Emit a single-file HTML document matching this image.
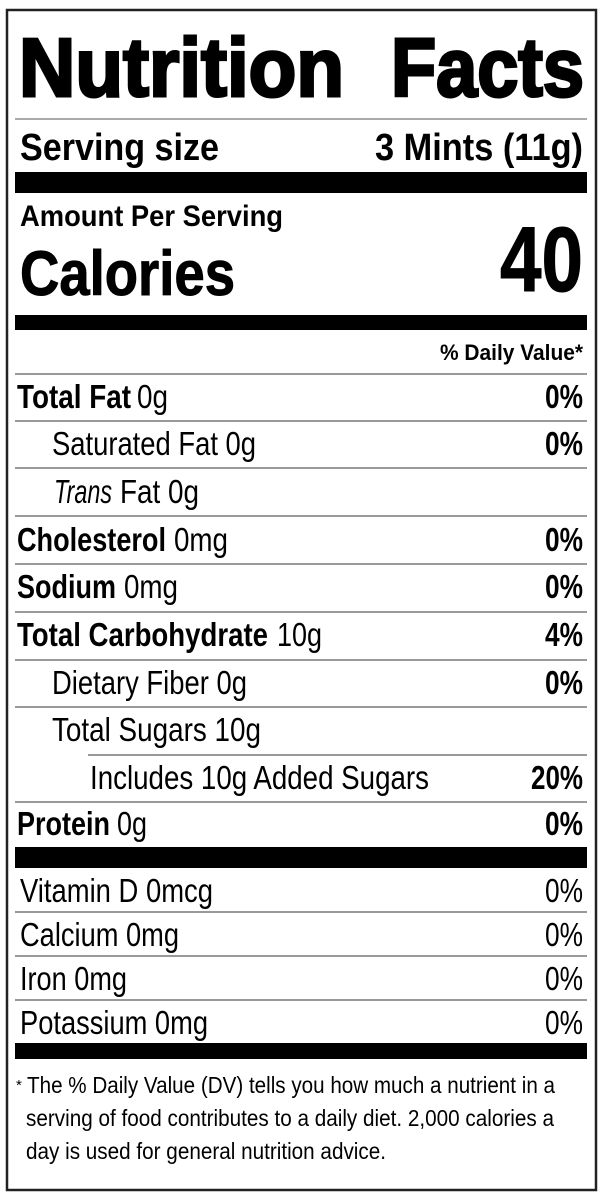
<!DOCTYPE html>
<html><head><meta charset="utf-8"><style>
html,body{margin:0;padding:0;background:#fff}
svg{display:block}
text{font-family:"Liberation Sans",Arial,sans-serif;fill:#000}
.b{font-weight:bold}
</style></head><body>
<svg width="600" height="1200" viewBox="0 0 600 1200" xmlns="http://www.w3.org/2000/svg">
<rect x="7" y="10" width="589" height="1180" fill="#fff" stroke="#222" stroke-width="2.5"/>
<text class="b" x="19" y="96" font-size="83" stroke="#000" stroke-width="3" textLength="325" lengthAdjust="spacingAndGlyphs">Nutrition</text>
<text class="b" x="391" y="96" font-size="83" stroke="#000" stroke-width="3" textLength="193" lengthAdjust="spacingAndGlyphs">Facts</text>
<rect x="15" y="118" width="572" height="2" fill="#aaa"/>
<text class="b" x="20" y="160" font-size="38" textLength="199" lengthAdjust="spacingAndGlyphs">Serving size</text>
<text class="b" x="375" y="160" font-size="38" textLength="208" lengthAdjust="spacingAndGlyphs">3 Mints (11g)</text>
<rect x="15" y="172" width="572" height="21" fill="#000"/>
<text class="b" x="20" y="226" font-size="30" textLength="263" lengthAdjust="spacingAndGlyphs">Amount Per Serving</text>
<text class="b" x="20" y="295" font-size="63" stroke="#000" stroke-width="1" textLength="215" lengthAdjust="spacingAndGlyphs">Calories</text>
<text class="b" x="500" y="291" font-size="92" stroke="#000" stroke-width="1" textLength="83" lengthAdjust="spacingAndGlyphs">40</text>
<rect x="15" y="315" width="572" height="15" fill="#000"/>
<text class="b" x="440" y="360" font-size="22" textLength="143" lengthAdjust="spacingAndGlyphs">% Daily Value*</text>
<g fill="#999">
<rect x="15" y="373" width="572" height="2"/>
<rect x="15" y="420" width="572" height="2"/>
<rect x="15" y="467" width="572" height="2"/>
<rect x="15" y="515" width="572" height="2"/>
<rect x="15" y="563" width="572" height="2"/>
<rect x="15" y="611" width="572" height="2"/>
<rect x="15" y="659" width="572" height="2"/>
<rect x="15" y="706" width="572" height="2"/>
<rect x="88" y="754" width="499" height="2"/>
<rect x="15" y="801" width="572" height="2"/>
</g>
<g font-size="33">
<text class="b" x="17" y="408" textLength="114" lengthAdjust="spacingAndGlyphs">Total Fat</text>
<text x="137" y="408" textLength="31" lengthAdjust="spacingAndGlyphs">0g</text>
<text class="b" x="545" y="408" textLength="38" lengthAdjust="spacingAndGlyphs">0%</text>

<text x="52" y="455" textLength="204" lengthAdjust="spacingAndGlyphs">Saturated Fat 0g</text>
<text class="b" x="545" y="455" textLength="38" lengthAdjust="spacingAndGlyphs">0%</text>

<text x="54" y="503" font-style="italic" textLength="58" lengthAdjust="spacingAndGlyphs">Trans</text>
<text x="120" y="503" textLength="79" lengthAdjust="spacingAndGlyphs">Fat 0g</text>

<text class="b" x="17" y="551" textLength="149" lengthAdjust="spacingAndGlyphs">Cholesterol</text>
<text x="174" y="551" textLength="54" lengthAdjust="spacingAndGlyphs">0mg</text>
<text class="b" x="545" y="551" textLength="38" lengthAdjust="spacingAndGlyphs">0%</text>

<text class="b" x="17" y="598" textLength="99" lengthAdjust="spacingAndGlyphs">Sodium</text>
<text x="124" y="598" textLength="54" lengthAdjust="spacingAndGlyphs">0mg</text>
<text class="b" x="545" y="598" textLength="38" lengthAdjust="spacingAndGlyphs">0%</text>

<text class="b" x="17" y="646" textLength="251" lengthAdjust="spacingAndGlyphs">Total Carbohydrate</text>
<text x="277" y="646" textLength="45" lengthAdjust="spacingAndGlyphs">10g</text>
<text class="b" x="545" y="646" textLength="38" lengthAdjust="spacingAndGlyphs">4%</text>

<text x="52" y="694" textLength="195" lengthAdjust="spacingAndGlyphs">Dietary Fiber 0g</text>
<text class="b" x="545" y="694" textLength="38" lengthAdjust="spacingAndGlyphs">0%</text>

<text x="52" y="741" textLength="209" lengthAdjust="spacingAndGlyphs">Total Sugars 10g</text>

<text x="90" y="789" textLength="339" lengthAdjust="spacingAndGlyphs">Includes 10g Added Sugars</text>
<text class="b" x="531" y="789" textLength="52" lengthAdjust="spacingAndGlyphs">20%</text>

<text class="b" x="17" y="835" textLength="93" lengthAdjust="spacingAndGlyphs">Protein</text>
<text x="117" y="835" textLength="30" lengthAdjust="spacingAndGlyphs">0g</text>
<text class="b" x="545" y="835" textLength="38" lengthAdjust="spacingAndGlyphs">0%</text>
</g>
<rect x="15" y="847" width="572" height="21" fill="#000"/>
<g fill="#999">
<rect x="15" y="911" width="572" height="2"/>
<rect x="15" y="955" width="572" height="2"/>
<rect x="15" y="999" width="572" height="2"/>
</g>
<g font-size="33">
<text x="20" y="902" textLength="193" lengthAdjust="spacingAndGlyphs">Vitamin D 0mcg</text>
<text x="545" y="902" textLength="38" lengthAdjust="spacingAndGlyphs">0%</text>
<text x="20" y="946" textLength="159" lengthAdjust="spacingAndGlyphs">Calcium 0mg</text>
<text x="545" y="946" textLength="38" lengthAdjust="spacingAndGlyphs">0%</text>
<text x="20" y="990" textLength="107" lengthAdjust="spacingAndGlyphs">Iron 0mg</text>
<text x="545" y="990" textLength="38" lengthAdjust="spacingAndGlyphs">0%</text>
<text x="20" y="1034" textLength="188" lengthAdjust="spacingAndGlyphs">Potassium 0mg</text>
<text x="545" y="1034" textLength="38" lengthAdjust="spacingAndGlyphs">0%</text>
</g>
<rect x="15" y="1043" width="572" height="16" fill="#000"/>
<g font-size="23">
<text x="16" y="1090" font-size="15">*</text>
<text x="27" y="1093" textLength="528" lengthAdjust="spacingAndGlyphs">The % Daily Value (DV) tells you how much a nutrient in a</text>
<text x="26" y="1126" textLength="528" lengthAdjust="spacingAndGlyphs">serving of food contributes to a daily diet. 2,000 calories a</text>
<text x="26" y="1159" textLength="360" lengthAdjust="spacingAndGlyphs">day is used for general nutrition advice.</text>
</g>
</svg>
</body></html>
